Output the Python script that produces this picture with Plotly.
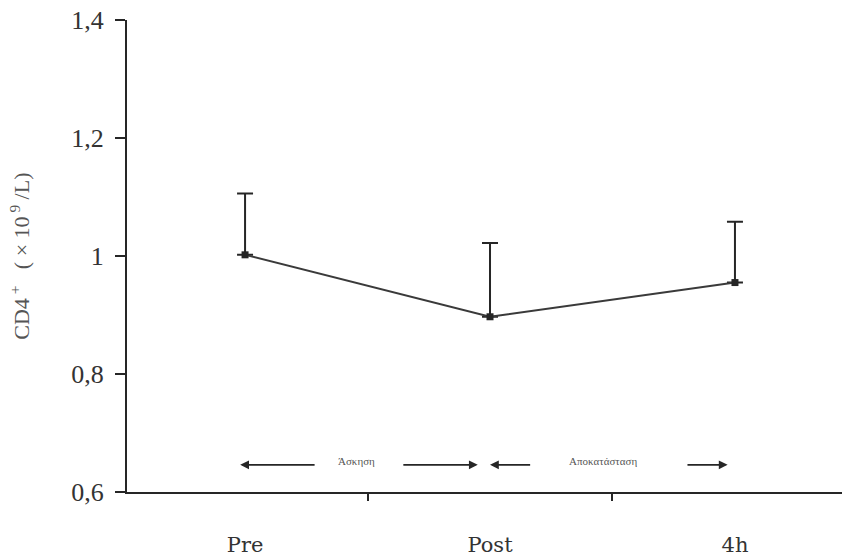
import plotly.graph_objects as go

# Time points and CD4+ counts (x10^9/L): mean with upper SD bar
phases = ["Pre", "Post", "4h"]
cd4_mean = [1.002, 0.897, 0.955]
cd4_sd = [0.104, 0.125, 0.103]
no_lower = [0, 0, 0]

y_ticks = [0.6, 0.8, 1.0, 1.2, 1.4]
y_tick_text = ["0,6", "0,8", "1", "1,2", "1,4"]

# Period labels drawn along the bottom of the plot
period_labels = ["Άσκηση", "Αποκατάσταση"]

INK = "#262626"

fig = go.Figure()
fig.add_trace(go.Scatter(
    x=phases,
    y=cd4_mean,
    mode="lines+markers",
    line=dict(color="#3a3a3a", width=2),
    marker=dict(symbol="square", size=7, color=INK),
    error_y=dict(type="data", symmetric=False, array=cd4_sd, arrayminus=no_lower,
                 color=INK, thickness=2, width=8),
    showlegend=False,
    hoverinfo="skip",
))

# Arrows for the exercise and recovery periods (category-index coordinates)
arrow_y = 0.646
label_y = 0.653
arrow_segments = [
    (0.29, -0.02), (0.64, 0.95),   # exercise
    (1.17, 1.0), (1.80, 1.97),     # recovery
]
annotations = []
for tail, head in arrow_segments:
    annotations.append(dict(
        x=head, y=arrow_y, ax=tail, ay=arrow_y,
        xref="x", yref="y", axref="x", ayref="y",
        text="", showarrow=True, arrowhead=2, arrowsize=1.1,
        arrowwidth=1.6, arrowcolor=INK,
    ))
for xpos, txt in zip([0.455, 1.46], period_labels):
    annotations.append(dict(
        x=xpos, y=label_y, xref="x", yref="y", text=txt, showarrow=False,
        font=dict(family="Liberation Serif", size=11, color="#555555"),
    ))

# Rotated y-axis title
annotations.append(dict(
    x=-0.15, y=0.5, xref="paper", yref="paper",
    text="CD4<sup> +</sup>   ( × 10<sup> 9</sup> /L)",
    textangle=-90, showarrow=False, xanchor="center", yanchor="middle",
    font=dict(family="Liberation Serif", size=22, color="#555555"),
))

fig.update_layout(
    width=842, height=559,
    margin=dict(l=127, r=0, t=20, b=67),
    paper_bgcolor="white", plot_bgcolor="white",
    annotations=annotations,
    xaxis=dict(
        type="category",
        range=[-0.482, 2.437],
        showline=True, linecolor=INK, linewidth=2,
        ticks="outside", tickson="boundaries", ticklen=7, tickwidth=1.5, tickcolor=INK,
        showgrid=False, zeroline=False,
        tickfont=dict(family="DejaVu Serif", size=21, color="#333333"),
        ticklabelstandoff=33,
    ),
    yaxis=dict(
        range=[0.6, 1.4],
        tickvals=y_ticks, ticktext=y_tick_text,
        showline=True, linecolor=INK, linewidth=2,
        ticks="outside", ticklen=10, tickwidth=1.5, tickcolor=INK,
        showgrid=False, zeroline=False,
        tickfont=dict(family="Liberation Serif", size=26, color="#333333"),
        ticklabelstandoff=6,
    ),
)

fig.write_html("out.html")
